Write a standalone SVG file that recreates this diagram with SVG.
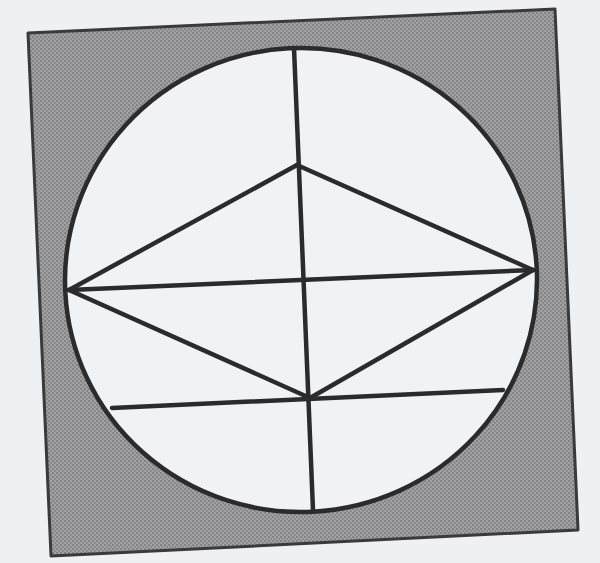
<svg xmlns="http://www.w3.org/2000/svg" width="600" height="563" viewBox="0 0 600 563">
<defs>
<pattern id="dots" width="4" height="4" patternUnits="userSpaceOnUse">
<rect width="4" height="4" fill="#a2a2a4"/>
<circle cx="1" cy="1" r="0.9" fill="#747476"/>
<circle cx="3" cy="3" r="0.9" fill="#7e7e80"/>
</pattern>
<style>
.ln{stroke:#2b2b2d;stroke-width:4.5;stroke-linecap:round;fill:none}
</style>
</defs>
<rect width="600" height="563" fill="#eff0f4"/>
<g id="square">
<polygon points="28,33 555,9 578,530 51,556" fill="url(#dots)" stroke="#3a3a3c" stroke-width="3" stroke-linejoin="round"/>
</g>
<g id="circle">
<ellipse cx="301" cy="280" rx="236" ry="232" transform="rotate(-3 301 280)" fill="#f1f2f6" stroke="#2b2b2d" stroke-width="4.5"/>
</g>
<g id="lines">
<line class="ln" x1="294" y1="48" x2="313" y2="510"/>
<line class="ln" x1="69" y1="290" x2="533" y2="270"/>
<line class="ln" x1="69" y1="290" x2="297" y2="165"/>
<line class="ln" x1="297" y1="165" x2="533" y2="270"/>
<line class="ln" x1="69" y1="290" x2="310" y2="398"/>
<line class="ln" x1="310" y1="398" x2="533" y2="270"/>
<line class="ln" x1="112" y1="408" x2="503" y2="390"/>
</g>
</svg>
